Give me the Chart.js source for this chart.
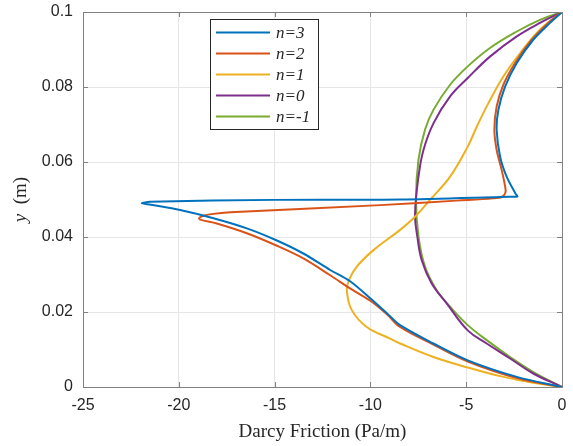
<!DOCTYPE html>
<html lang="en">
<head>
<meta charset="UTF-8">
<title>Darcy Friction</title>
<script src="https://cdn.jsdelivr.net/npm/chart.js"></script>
<style>
    html, body { margin: 0; padding: 0; background: #fff; }
    #wrap { width: 573px; height: 446px; }
</style>
</head>
<body>
<div id="wrap"><canvas id="chart"></canvas></div>
<script>
// curves: y position (m) and friction (Pa/m)
const seriesNames = ['n=3', 'n=2', 'n=1', 'n=0', 'n=-1'];
const seriesColors = ['#0072BD', '#D95319', '#EDB120', '#7E2F8E', '#77AC30'];
const seriesTension = [0.3, 0.35, 0.4, 0.4, 0.4];

const yN3 = [0, 0.0027, 0.0071, 0.0116, 0.0165, 0.0195, 0.0234, 0.0282, 0.0312, 0.0356, 0.0392, 0.0423, 0.0450, 0.0472, 0.0486, 0.0490, 0.0494, 0.0499, 0.0500, 0.05075, 0.0508, 0.0515, 0.0561, 0.0614, 0.0686, 0.0739, 0.0801, 0.0864, 0.0926, 0.0971, 0.1];
const xN3 = [0, -2.36, -4.92, -6.71, -8.45, -9.1, -9.95, -11.06, -12.10, -13.50, -14.94, -16.45, -18.19, -19.93, -21.45, -21.93, -21.5, -15.0, -8.45, -2.8, -2.33, -2.42, -2.89, -3.23, -3.41, -3.32, -2.97, -2.36, -1.50, -0.63, 0];

const yN2 = [0, 0.0024, 0.0068, 0.0113, 0.016, 0.0192, 0.0228, 0.0263, 0.0298, 0.0343, 0.0378, 0.0410, 0.0436, 0.0445, 0.0450, 0.0456, 0.0461, 0.0466, 0.0485, 0.0497, 0.0503, 0.0508, 0.0519, 0.0535, 0.0579, 0.0632, 0.0686, 0.0748, 0.0806, 0.0864, 0.0926, 0.0971, 0.1];
const xN2 = [0, -2.36, -4.92, -6.71, -8.45, -9.1, -9.95, -11.06, -12.10, -13.50, -14.94, -16.45, -18.02, -18.8, -18.94, -18.75, -18.3, -17.32, -9.49, -5.5, -3.6, -3.1, -2.95, -2.97, -3.15, -3.41, -3.53, -3.41, -3.06, -2.45, -1.58, -0.71, 0];

const yN1 = [0, 0.0011, 0.0029, 0.0052, 0.008, 0.0116, 0.0129, 0.016, 0.0205, 0.0256, 0.0285, 0.0321, 0.0365, 0.0419, 0.0454, 0.0499, 0.0561, 0.0641, 0.0694, 0.0757, 0.0828, 0.089, 0.0953, 0.1];
const xN1 = [0, -1.50, -3.23, -4.92, -6.71, -8.45, -8.97, -10.19, -10.97, -11.23, -11.12, -10.71, -9.84, -8.45, -7.67, -6.89, -5.84, -4.92, -4.45, -3.84, -3.06, -2.19, -1.15, 0];

const yN0 = [0, 0.0036, 0.0076, 0.0116, 0.0151, 0.0223, 0.0276, 0.0338, 0.0401, 0.0460, 0.0561, 0.0632, 0.0703, 0.0775, 0.0824, 0.0881, 0.0935, 0.0971, 0.1];
const xN0 = [0, -1.50, -2.71, -3.93, -4.92, -6.02, -6.80, -7.32, -7.55, -7.67, -7.49, -7.23, -6.71, -5.84, -4.92, -3.76, -2.36, -1.15, 0];

const yNm1 = [0, 0.0040, 0.0080, 0.0125, 0.0165, 0.0214, 0.0258, 0.0321, 0.0401, 0.0500, 0.0606, 0.0686, 0.0739, 0.0806, 0.0855, 0.0904, 0.0948, 0.0979, 0.1];
const xNm1 = [0, -1.50, -2.71, -3.93, -4.92, -5.84, -6.54, -7.15, -7.49, -7.62, -7.49, -7.15, -6.71, -5.84, -4.92, -3.76, -2.36, -1.15, 0];

const xTicks = [-25, -20, -15, -10, -5, 0];
const yTicks = [0, 0.02, 0.04, 0.06, 0.08, 0.1];

const allY = [yN3, yN2, yN1, yN0, yNm1];
const allX = [xN3, xN2, xN1, xN0, xNm1];

const datasets = seriesNames.map((name, i) => ({
    label: name,
    data: allY[i].map((y, k) => ({ x: allX[i][k], y: y })),
    showLine: true,
    borderColor: seriesColors[i],
    backgroundColor: seriesColors[i],
    borderWidth: 2,
    pointRadius: 0,
    tension: seriesTension[i]
}));

const axisColor = '#808080';

// box, inward ticks, titles and legend like the original figure
const decorations = {
    id: 'decorations',
    afterDraw(chart) {
        const ctx = chart.ctx;
        const a = chart.chartArea;
        const xs = chart.scales.x, ys = chart.scales.y;
        ctx.save();
        ctx.strokeStyle = axisColor;
        ctx.lineWidth = 1;
        ctx.strokeRect(a.left + 0.5, a.top + 0.5, a.right - a.left, a.bottom - a.top);
        ctx.beginPath();
        xTicks.forEach(v => {
            const px = Math.round(xs.getPixelForValue(v)) + 0.5;
            ctx.moveTo(px, a.bottom); ctx.lineTo(px, a.bottom - 5);
            ctx.moveTo(px, a.top); ctx.lineTo(px, a.top + 5);
        });
        yTicks.forEach(v => {
            const py = Math.round(ys.getPixelForValue(v)) + 0.5;
            ctx.moveTo(a.left, py); ctx.lineTo(a.left + 5, py);
            ctx.moveTo(a.right, py); ctx.lineTo(a.right - 5, py);
        });
        ctx.stroke();

        // axis titles
        ctx.fillStyle = '#262626';
        ctx.font = '19px "Liberation Serif", "Times New Roman", serif';
        ctx.textAlign = 'center';
        ctx.textBaseline = 'middle';
        ctx.fillText('Darcy Friction (Pa/m)', (a.left + a.right) / 2, 432);

        ctx.translate(21, (a.top + a.bottom) / 2);
        ctx.rotate(-Math.PI / 2);
        ctx.font = 'italic 19px "Liberation Serif", serif';
        const yW = ctx.measureText('y').width;
        ctx.font = '19px "Liberation Serif", serif';
        const rest = '  (m)';
        const rW = ctx.measureText(rest).width;
        const start = -(yW + rW) / 2;
        ctx.textAlign = 'left';
        ctx.font = 'italic 19px "Liberation Serif", serif';
        ctx.fillText('y', start, 0);
        ctx.font = '19px "Liberation Serif", serif';
        ctx.fillText(rest, start + yW, 0);
        ctx.restore();

        // legend
        ctx.save();
        ctx.fillStyle = '#fff';
        ctx.fillRect(210, 19, 108, 110);
        ctx.strokeStyle = '#262626';
        ctx.lineWidth = 1;
        ctx.strokeRect(210.5, 19.5, 108, 110);
        ctx.font = 'italic 17px "Liberation Serif", serif';
        ctx.textBaseline = 'middle';
        seriesNames.forEach((name, i) => {
            const ly = 32.5 + i * 21;
            ctx.strokeStyle = seriesColors[i];
            ctx.lineWidth = 2;
            ctx.beginPath();
            ctx.moveTo(216, ly); ctx.lineTo(270, ly);
            ctx.stroke();
            ctx.fillStyle = '#262626';
            ctx.fillText(name, 276, ly + 1);
        });
        ctx.restore();
    }
};

new Chart(document.getElementById('chart'), {
    type: 'scatter',
    data: { datasets: datasets },
    options: {
        responsive: true,
        maintainAspectRatio: false,
        animation: false,
        layout: { padding: { top: 12, right: 11, left: 0, bottom: 0 } },
        plugins: { legend: { display: false }, tooltip: { enabled: false } },
        scales: {
            x: {
                type: 'linear',
                min: -25, max: 0,
                afterBuildTicks: s => { s.ticks = xTicks.map(v => ({ value: v })); },
                afterFit: s => { s.height = 59; s.paddingLeft = 0; s.paddingRight = 0; },
                grid: { color: '#e6e6e6', drawTicks: false },
                border: { display: false },
                ticks: {
                    padding: 9,
                    color: '#262626',
                    font: { family: 'Liberation Sans, Arial, sans-serif', size: 16 },
                    callback: v => String(v)
                }
            },
            y: {
                type: 'linear',
                min: 0, max: 0.1,
                afterBuildTicks: s => { s.ticks = yTicks.map(v => ({ value: v })); },
                afterFit: s => { s.width = 83; s.paddingTop = 0; s.paddingBottom = 0; },
                grid: { color: '#e6e6e6', drawTicks: false },
                border: { display: false },
                ticks: {
                    padding: 10,
                    color: '#262626',
                    font: { family: 'Liberation Sans, Arial, sans-serif', size: 16 },
                    callback: v => String(+v.toFixed(2))
                }
            }
        }
    },
    plugins: [decorations]
});
</script>
</body>
</html>
